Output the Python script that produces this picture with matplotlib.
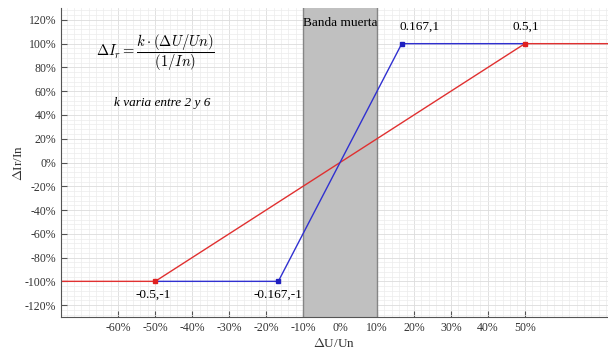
import numpy as np
import matplotlib
matplotlib.use('Agg')
import matplotlib.pyplot as plt
from matplotlib.ticker import MultipleLocator, FuncFormatter

# Curve breakpoints (x = dU/Un, y = dIr/In)
red_x = [-0.75, -0.5, 0.5, 0.75]
red_y = [-1, -1, 1, 1]
blue_x = [-0.5, -0.167, 0.167, 0.5]
blue_y = [-1, -1, 1, 1]
red_pts_x = [-0.5, 0.5]
red_pts_y = [-1, 1]
blue_pts_x = [-0.167, 0.167]
blue_pts_y = [-1, 1]
dead_band = [-0.1, 0.1]
x_ticks = [-0.6, -0.5, -0.4, -0.3, -0.2, -0.1, 0, 0.1, 0.2, 0.3, 0.4, 0.5]
y_ticks = [-1.2, -1.0, -0.8, -0.6, -0.4, -0.2, 0, 0.2, 0.4, 0.6, 0.8, 1.0, 1.2]

plt.rcParams['font.family'] = 'Liberation Serif'
plt.rcParams['mathtext.fontset'] = 'cm'

fig = plt.figure(figsize=(6.08, 3.5), dpi=100)
ax = fig.add_axes([0.1003, 0.0943, 0.8997, 0.8828])

# dead band
ax.axvspan(dead_band[0], dead_band[1], facecolor='#c0c0c0', edgecolor='none', zorder=1)
for xb in dead_band:
    ax.axvline(xb, color='#858585', lw=1.0, zorder=2)

ax.plot(red_x, red_y, color='#e03030', lw=1.0, zorder=3)
ax.plot(blue_x, blue_y, color='#3030d0', lw=1.0, zorder=4)
ax.plot(red_pts_x, red_pts_y, 's', color='#e02020', ms=3, zorder=5)
ax.plot(blue_pts_x, blue_pts_y, 's', color='#2020c0', ms=3, zorder=5)

ax.set_xlim(-0.755, 0.725)
ax.set_ylim(-1.3, 1.3)
ax.set_xticks(x_ticks)
ax.set_yticks(y_ticks)
pct = FuncFormatter(lambda v, p: '%d%%' % round(v * 100))
ax.xaxis.set_major_formatter(pct)
ax.yaxis.set_major_formatter(pct)
ax.xaxis.set_minor_locator(MultipleLocator(0.02))
ax.yaxis.set_minor_locator(MultipleLocator(0.04))
ax.grid(which='major', color='#dcdcdc', lw=0.6, zorder=0)
ax.grid(which='minor', color='#ececec', lw=0.5, zorder=0)
ax.set_axisbelow(True)
ax.tick_params(which='major', direction='in', length=4, color='#555555',
               labelsize=8.5, labelcolor='#333333')
ax.tick_params(which='minor', length=0)

for s in ['top', 'right']:
    ax.spines[s].set_visible(False)
for s in ['left', 'bottom']:
    ax.spines[s].set_color('#555555')

ax.set_xlabel(r'$\Delta$U/Un', fontsize=9.5, color='#333333', labelpad=2)
ax.set_ylabel(r'$\Delta$Ir/In', fontsize=9.5, color='#333333')
ax.yaxis.set_label_coords(-0.066, 0.5)

ax.text(0.0, 1.17, 'Banda muerta', ha='center', va='center', fontsize=9.5)
ax.text(0.216, 1.14, '0.167,1', ha='center', va='center', fontsize=9.5)
ax.text(0.503, 1.14, '0.5,1', ha='center', va='center', fontsize=9.5)
ax.text(-0.505, -1.11, '-0.5,-1', ha='center', va='center', fontsize=9.5)
ax.text(-0.168, -1.11, '-0.167,-1', ha='center', va='center', fontsize=9.5)

ax.text(-0.5, 0.92, r'$\Delta I_r = \dfrac{k\cdot(\Delta U/Un)}{(1/In)}$',
        ha='center', va='center', fontsize=10.5)
ax.text(-0.48, 0.50, 'k varia entre 2 y 6', ha='center', va='center',
        fontsize=9.5, style='italic')

fig.savefig('out.png', dpi=100)
